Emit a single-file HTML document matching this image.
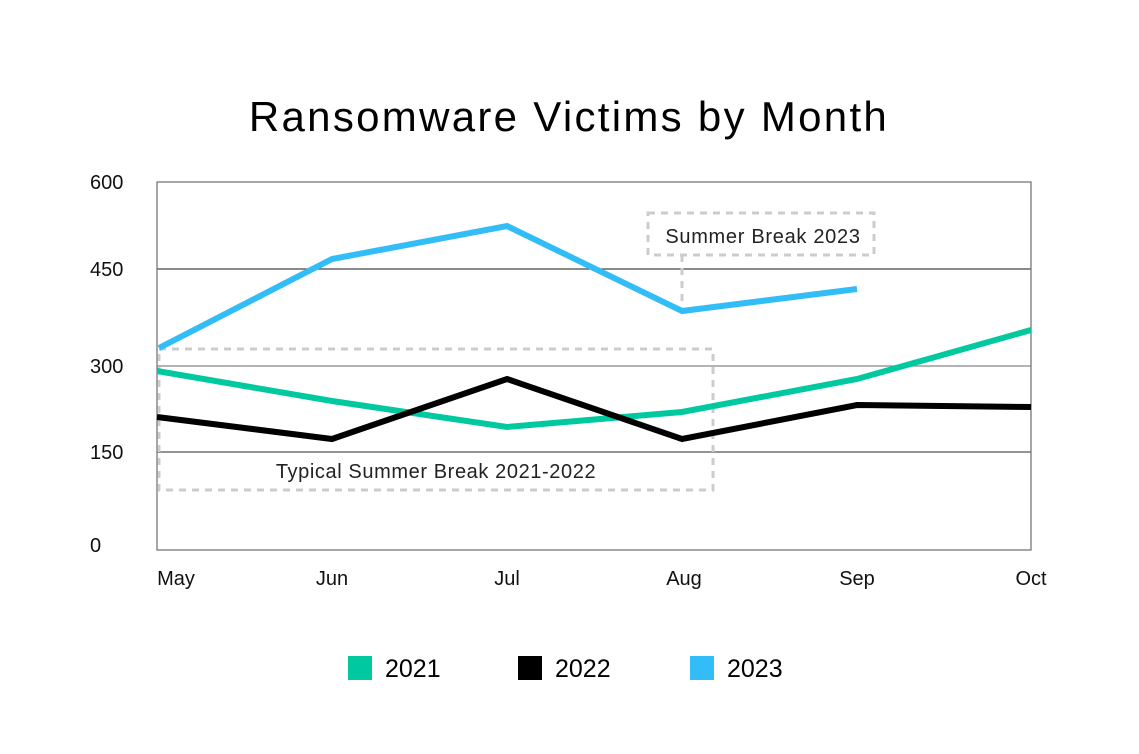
<!DOCTYPE html><html><head><style>body{margin:0;background:#fff}svg{display:block}</style></head><body>
<svg width="1139" height="754" viewBox="0 0 1139 754" font-family="Liberation Sans, sans-serif">
<rect width="1139" height="754" fill="#fff"/>
<text x="569" y="131" font-size="42" letter-spacing="2.3" text-anchor="middle" fill="#000">Ransomware Victims by Month</text>
<g stroke-width="1.3">
<line x1="157" y1="269" x2="1031" y2="269" stroke="#444"/>
<line x1="157" y1="366" x2="1031" y2="366" stroke="#888"/>
<line x1="157" y1="452" x2="1031" y2="452" stroke="#555"/>
<rect x="157" y="182" width="874" height="368" fill="none" stroke="#777"/>
</g>
<g font-size="20" fill="#111">
<text x="90" y="189">600</text>
<text x="90" y="276">450</text>
<text x="90" y="373">300</text>
<text x="90" y="459">150</text>
<text x="90" y="552">0</text>
<g text-anchor="middle"><text x="176" y="585">May</text><text x="332" y="585">Jun</text><text x="507" y="585">Jul</text><text x="684" y="585">Aug</text><text x="857" y="585">Sep</text><text x="1031" y="585">Oct</text></g>
</g>
<g fill="none" stroke="#ccc" stroke-width="3" stroke-dasharray="7,6">
<rect x="159" y="349" width="554" height="141"/>
<rect x="648" y="213" width="226" height="42"/>
<line x1="682" y1="255" x2="682" y2="305"/>
</g>
<text x="436" y="478" font-size="20" letter-spacing="0.6" text-anchor="middle" fill="#222">Typical Summer Break 2021-2022</text>
<text x="763" y="243" font-size="20" letter-spacing="0.7" text-anchor="middle" fill="#222">Summer Break 2023</text>
<g fill="none" stroke-width="6" stroke-linejoin="miter">
<polyline stroke="#00c9a0" points="157,371 332,401 507,427 682,412 857,379 1031,330"/>
<polyline stroke="#000" points="157,417 332,439 507,379 682,439 857,405 1031,407"/>
<polyline stroke="#33bdf7" points="159,348 332,259 507,226 682,311 857,289"/>
</g>
<rect x="348" y="656" width="24" height="24" fill="#00c9a0"/><text x="385" y="677" font-size="25">2021</text>
<rect x="518" y="656" width="24" height="24" fill="#000"/><text x="555" y="677" font-size="25">2022</text>
<rect x="690" y="656" width="24" height="24" fill="#33bdf7"/><text x="727" y="677" font-size="25">2023</text>
</svg></body></html>
